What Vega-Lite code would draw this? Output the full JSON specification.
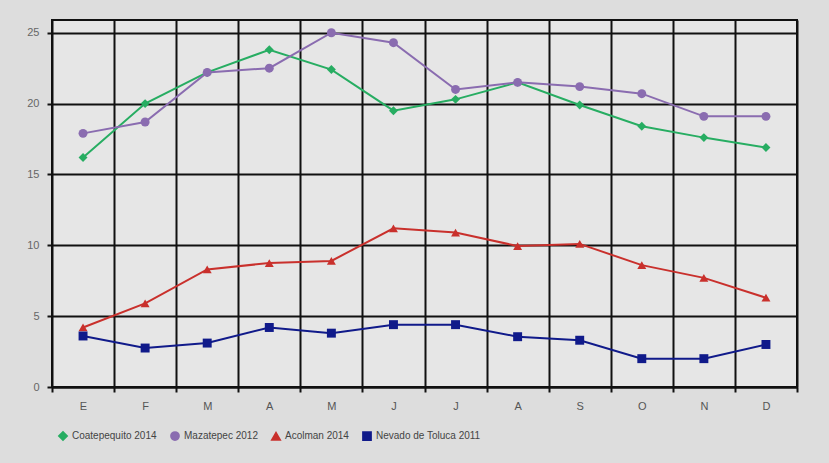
{
  "$schema": "https://vega.github.io/schema/vega-lite/v6.json",
  "width": 745,
  "height": 367,
  "autosize": {"type": "none"},
  "padding": {"left": 52, "top": 20, "right": 32, "bottom": 76},
  "background": "#dddddd",
  "config": {
    "view": {"stroke": "#111", "strokeWidth": 2, "fill": "#e6e6e6"},
    "font": "Liberation Sans"
  },
  "data": {
    "values": [
      {"mes": "E", "serie": "Coatepequito 2014", "v": 16.2},
      {"mes": "F", "serie": "Coatepequito 2014", "v": 20.0},
      {"mes": "M", "serie": "Coatepequito 2014", "v": 22.2},
      {"mes": "A", "serie": "Coatepequito 2014", "v": 23.8},
      {"mes": "M ", "serie": "Coatepequito 2014", "v": 22.4},
      {"mes": "J", "serie": "Coatepequito 2014", "v": 19.5},
      {"mes": "J ", "serie": "Coatepequito 2014", "v": 20.3},
      {"mes": "A ", "serie": "Coatepequito 2014", "v": 21.5},
      {"mes": "S", "serie": "Coatepequito 2014", "v": 19.9},
      {"mes": "O", "serie": "Coatepequito 2014", "v": 18.4},
      {"mes": "N", "serie": "Coatepequito 2014", "v": 17.6},
      {"mes": "D", "serie": "Coatepequito 2014", "v": 16.9},
      {"mes": "E", "serie": "Mazatepec 2012", "v": 17.9},
      {"mes": "F", "serie": "Mazatepec 2012", "v": 18.7},
      {"mes": "M", "serie": "Mazatepec 2012", "v": 22.2},
      {"mes": "A", "serie": "Mazatepec 2012", "v": 22.5},
      {"mes": "M ", "serie": "Mazatepec 2012", "v": 25.0},
      {"mes": "J", "serie": "Mazatepec 2012", "v": 24.3},
      {"mes": "J ", "serie": "Mazatepec 2012", "v": 21.0},
      {"mes": "A ", "serie": "Mazatepec 2012", "v": 21.5},
      {"mes": "S", "serie": "Mazatepec 2012", "v": 21.2},
      {"mes": "O", "serie": "Mazatepec 2012", "v": 20.7},
      {"mes": "N", "serie": "Mazatepec 2012", "v": 19.1},
      {"mes": "D", "serie": "Mazatepec 2012", "v": 19.1},
      {"mes": "E", "serie": "Acolman 2014", "v": 4.2},
      {"mes": "F", "serie": "Acolman 2014", "v": 5.9},
      {"mes": "M", "serie": "Acolman 2014", "v": 8.3},
      {"mes": "A", "serie": "Acolman 2014", "v": 8.75},
      {"mes": "M ", "serie": "Acolman 2014", "v": 8.9},
      {"mes": "J", "serie": "Acolman 2014", "v": 11.2},
      {"mes": "J ", "serie": "Acolman 2014", "v": 10.9},
      {"mes": "A ", "serie": "Acolman 2014", "v": 9.95},
      {"mes": "S", "serie": "Acolman 2014", "v": 10.1},
      {"mes": "O", "serie": "Acolman 2014", "v": 8.6},
      {"mes": "N", "serie": "Acolman 2014", "v": 7.7},
      {"mes": "D", "serie": "Acolman 2014", "v": 6.3},
      {"mes": "E", "serie": "Nevado de Toluca 2011", "v": 3.6},
      {"mes": "F", "serie": "Nevado de Toluca 2011", "v": 2.75},
      {"mes": "M", "serie": "Nevado de Toluca 2011", "v": 3.1},
      {"mes": "A", "serie": "Nevado de Toluca 2011", "v": 4.2},
      {"mes": "M ", "serie": "Nevado de Toluca 2011", "v": 3.8},
      {"mes": "J", "serie": "Nevado de Toluca 2011", "v": 4.4},
      {"mes": "J ", "serie": "Nevado de Toluca 2011", "v": 4.4},
      {"mes": "A ", "serie": "Nevado de Toluca 2011", "v": 3.55},
      {"mes": "S", "serie": "Nevado de Toluca 2011", "v": 3.3},
      {"mes": "O", "serie": "Nevado de Toluca 2011", "v": 2.0},
      {"mes": "N", "serie": "Nevado de Toluca 2011", "v": 2.0},
      {"mes": "D", "serie": "Nevado de Toluca 2011", "v": 3.0}
    ]
  },
  "encoding": {
    "x": {
      "field": "mes",
      "type": "nominal",
      "sort": null,
      "scale": {"paddingInner": 0, "paddingOuter": 0},
      "axis": {
        "title": null,
        "labelAngle": 0,
        "tickBand": "extent",
        "grid": true,
        "gridColor": "#111",
        "gridWidth": 2,
        "domainColor": "#111",
        "domainWidth": 2,
        "tickColor": "#111",
        "tickWidth": 2,
        "tickSize": 5,
        "labelColor": "#555",
        "labelFontSize": 11,
        "labelPadding": 8
      }
    },
    "y": {
      "field": "v",
      "type": "quantitative",
      "scale": {"domain": [0, 25.9], "nice": false},
      "axis": {
        "title": null,
        "values": [0, 5, 10, 15, 20, 25],
        "grid": true,
        "gridColor": "#111",
        "gridWidth": 2,
        "domain": false,
        "ticks": true,
        "tickColor": "#111",
        "tickWidth": 2,
        "tickSize": 5,
        "labelColor": "#666",
        "labelFontSize": 11,
        "labelPadding": 8
      }
    },
    "color": {
      "field": "serie",
      "type": "nominal",
      "sort": ["Coatepequito 2014", "Mazatepec 2012", "Acolman 2014", "Nevado de Toluca 2011"],
      "scale": {
        "domain": ["Coatepequito 2014", "Mazatepec 2012", "Acolman 2014", "Nevado de Toluca 2011"],
        "range": ["#27ad62", "#8a6cb0", "#c9302c", "#101a8a"]
      },
      "legend": {
        "title": null,
        "orient": "none",
        "legendX": 6,
        "legendY": 411,
        "direction": "horizontal",
        "labelColor": "#444",
        "labelFontSize": 10,
        "symbolSize": 60,
        "columnPadding": 10,
        "symbolStrokeWidth": 2
      }
    },
    "shape": {
      "field": "serie",
      "type": "nominal",
      "scale": {
        "domain": ["Coatepequito 2014", "Mazatepec 2012", "Acolman 2014", "Nevado de Toluca 2011"],
        "range": ["diamond", "circle", "triangle-up", "square"]
      },
      "legend": null
    }
  },
  "layer": [
    {"mark": {"type": "line", "strokeWidth": 2}},
    {"mark": {"type": "point", "filled": true, "size": 80, "opacity": 1}}
  ]
}
